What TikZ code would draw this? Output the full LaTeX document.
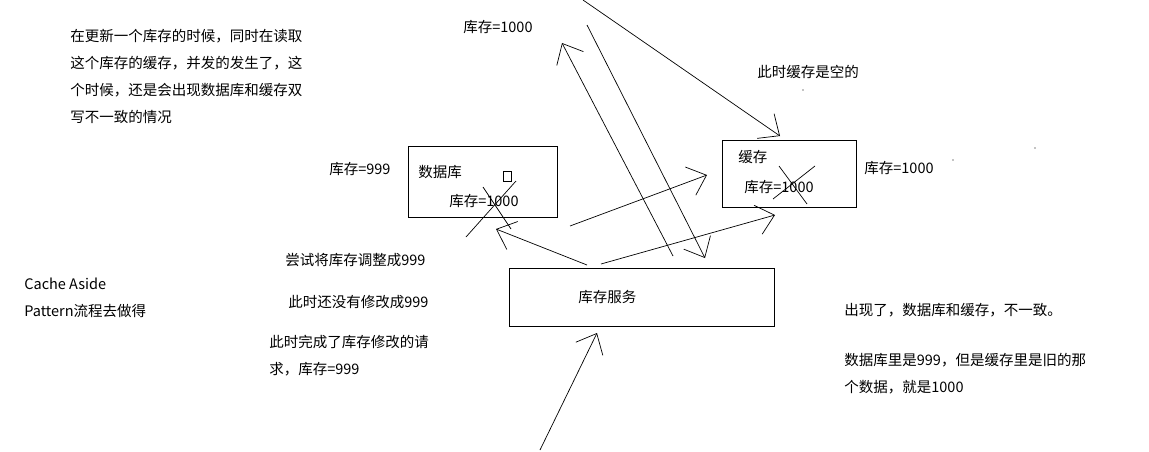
\documentclass[tikz,border=0pt]{standalone}
\usepackage{fontspec}
\setmainfont{Noto Sans CJK SC}
\usetikzlibrary{arrows.meta, positioning}

\begin{document}
\begin{tikzpicture}[x=1pt, y=-1pt, line width=0.7pt,
    txt/.style={anchor=north west, inner sep=0pt, yshift=-3pt, font=\fontsize{14.5}{27}\selectfont, align=left},
    box/.style={draw},
    barb/.style={-{Straight Barb[length=17pt, width=30pt, line width=0.7pt]}}]
    \useasboundingbox (0,0) rectangle (1149,451);

    % Boxes
    \draw[box] (408,146) rectangle (557,217);
    \draw[box] (722,140) rectangle (856,207);
    \draw[box] (509,268) rectangle (774,326);
    \node[txt] (db) at (418,162) {数据库};
    \node[txt] (dbval) at (449,191) {库存=1000};
    \node[txt] (cache) at (738,147) {缓存};
    \node[txt] (cacheval) at (744,177) {库存=1000};
    \node[txt] (svc) at (578,287) {库存服务};
    \draw (503,171) rectangle (511,181);

    % Crosses
    \draw (483,187) -- (511,229);
    \draw (466,237) -- (516,181);
    \draw (779,166) -- (807,204);
    \draw (773,199) -- (815,166);

    % Labels
    \node[txt] (intro) at (70,26) {在更新一个库存的时候，同时在读取\\这个库存的缓存，并发的发生了，这\\个时候，还是会出现数据库和缓存双\\写不一致的情况};
    \node[txt] (top) at (463,17) {库存=1000};
    \node[txt] (empty) at (757,62) {此时缓存是空的};
    \node[txt] (old) at (329,159) {库存=999};
    \node[txt] (new) at (864,158) {库存=1000};
    \node[txt] (try) at (285,250) {尝试将库存调整成999};
    \node[txt] (notyet) at (288,292) {此时还没有修改成999};
    \node[txt] (done) at (269,332) {此时完成了库存修改的请\\求，库存=999};
    \node[txt] (cas) at (24,275) {Cache Aside\\Pattern流程去做得};
    \node[txt] (result) at (844,300) {出现了，数据库和缓存，不一致。};
    \node[txt] (why) at (844,350) {数据库里是999，但是缓存里是旧的那\\个数据，就是1000};
    \fill (803,90) circle (0.6);
    \fill (953,160) circle (0.6);
    \fill (1035,148) circle (0.6);

    % Arrows
    \draw[barb] (540,450) -- (597,333);
    \draw[barb] (587,265) -- (496,229);
    \draw[barb] (570,226) -- (707,175);
    \draw[barb] (601,264) -- (775,215);
    \draw[barb] (673,256) -- (562,43);
    \draw[barb] (587,25) -- (705,258);
    \draw[barb] (583,0) -- (780,136);
\end{tikzpicture}
\end{document}
